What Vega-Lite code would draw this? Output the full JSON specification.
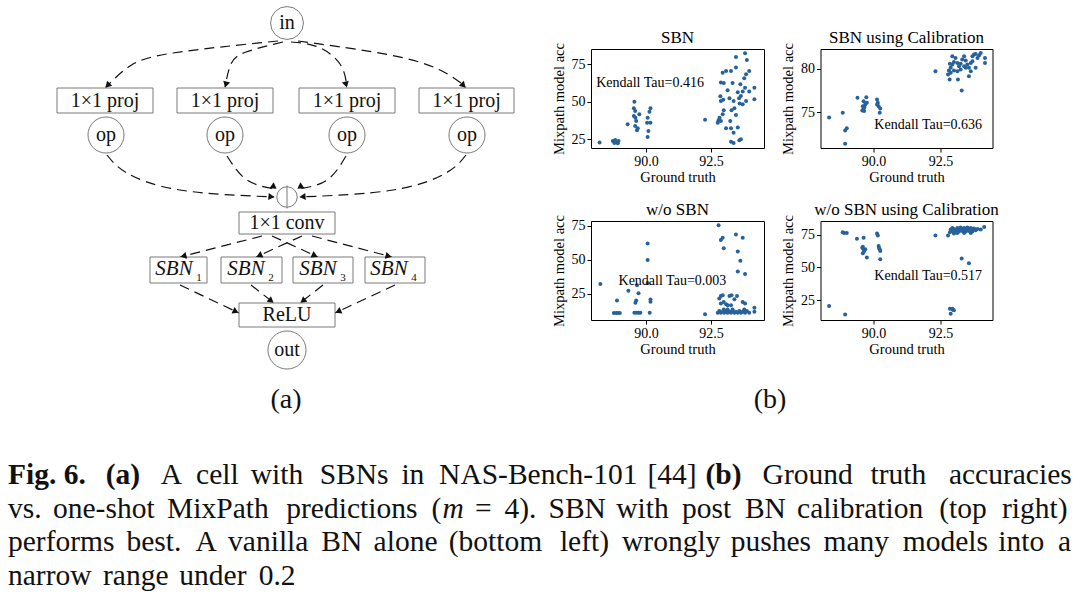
{
  "$schema": "https://vega.github.io/schema/vega-lite/v6.json",
  "padding": 0,
  "background": "white",
  "spacing": 0,
  "config": {
    "view": {"stroke": null},
    "font": "Liberation Serif",
    "axis": {"domain": false, "grid": false, "tickColor": "#000", "tickSize": 4, "tickWidth": 1, "labelFont": "Liberation Serif", "labelFontSize": 14, "labelColor": "#000", "labelPadding": 2, "titleFont": "Liberation Serif", "titleFontSize": 14.5, "titleFontWeight": "normal", "titleColor": "#000"},
    "axisX": {"titlePadding": 2},
    "axisY": {"titlePadding": 5},
    "title": {"font": "Liberation Serif", "fontSize": 17, "fontWeight": "normal", "color": "#000", "offset": -4, "anchor": "middle", "frame": "group"}
  },
  "vconcat": [
    {
      "spacing": 0,
      "hconcat": [
        {
          "width": 550,
          "height": 380,
          "layer": [
            {
              "data": {"values": [
                {"e": "i1", "o": 0, "x": 278, "y": 41}, {"e": "i1", "o": 1, "x": 173, "y": 53}, {"e": "i1", "o": 2, "x": 130, "y": 66}, {"e": "i1", "o": 3, "x": 106, "y": 87},
                {"e": "i2", "o": 0, "x": 283, "y": 42}, {"e": "i2", "o": 1, "x": 246, "y": 52}, {"e": "i2", "o": 2, "x": 231, "y": 64}, {"e": "i2", "o": 3, "x": 225, "y": 87},
                {"e": "i3", "o": 0, "x": 291, "y": 42}, {"e": "i3", "o": 1, "x": 318, "y": 47}, {"e": "i3", "o": 2, "x": 340, "y": 64}, {"e": "i3", "o": 3, "x": 347, "y": 87},
                {"e": "i4", "o": 0, "x": 298, "y": 41}, {"e": "i4", "o": 1, "x": 390, "y": 55}, {"e": "i4", "o": 2, "x": 440, "y": 70}, {"e": "i4", "o": 3, "x": 466, "y": 87},
                {"e": "o1", "o": 0, "x": 107, "y": 155}, {"e": "o1", "o": 1, "x": 127, "y": 173}, {"e": "o1", "o": 2, "x": 180, "y": 190}, {"e": "o1", "o": 3, "x": 274, "y": 197},
                {"e": "o2", "o": 0, "x": 227, "y": 156}, {"e": "o2", "o": 1, "x": 247, "y": 180}, {"e": "o2", "o": 2, "x": 276, "y": 189},
                {"e": "o3", "o": 0, "x": 346, "y": 156}, {"e": "o3", "o": 1, "x": 327, "y": 180}, {"e": "o3", "o": 2, "x": 298, "y": 189},
                {"e": "o4", "o": 0, "x": 466, "y": 155}, {"e": "o4", "o": 1, "x": 446, "y": 173}, {"e": "o4", "o": 2, "x": 393, "y": 190}, {"e": "o4", "o": 3, "x": 300, "y": 197},
                {"e": "c1", "o": 0, "x": 262, "y": 236}, {"e": "c1", "o": 1, "x": 180, "y": 257},
                {"e": "c2", "o": 0, "x": 302, "y": 236}, {"e": "c2", "o": 1, "x": 256, "y": 257},
                {"e": "c3", "o": 0, "x": 272, "y": 236}, {"e": "c3", "o": 1, "x": 318, "y": 257},
                {"e": "c4", "o": 0, "x": 312, "y": 236}, {"e": "c4", "o": 1, "x": 392, "y": 257},
                {"e": "s1", "o": 0, "x": 180, "y": 285}, {"e": "s1", "o": 1, "x": 239, "y": 313},
                {"e": "s2", "o": 0, "x": 251, "y": 285}, {"e": "s2", "o": 1, "x": 274, "y": 303},
                {"e": "s3", "o": 0, "x": 323, "y": 285}, {"e": "s3", "o": 1, "x": 300, "y": 303},
                {"e": "s4", "o": 0, "x": 395, "y": 285}, {"e": "s4", "o": 1, "x": 335, "y": 313}
              ]},
              "mark": {"type": "line", "interpolate": "natural", "strokeDash": [10, 6], "strokeWidth": 1.2, "color": "#111"},
              "encoding": {
                "x": {"field": "x", "type": "quantitative", "scale": {"domain": [0, 550], "nice": false, "zero": false}, "axis": null},
                "y": {"field": "y", "type": "quantitative", "scale": {"domain": [0, 380], "nice": false, "zero": false, "reverse": true}, "axis": null},
                "detail": {"field": "e"},
                "order": {"field": "o", "type": "quantitative"}
              }
            },
            {
              "data": {"values": [
                {"x1": 57, "x2": 153, "y1": 88, "y2": 113},
                {"x1": 177, "x2": 273, "y1": 88, "y2": 113},
                {"x1": 299, "x2": 395, "y1": 88, "y2": 113},
                {"x1": 419, "x2": 514, "y1": 88, "y2": 113},
                {"x1": 239, "x2": 335, "y1": 212, "y2": 234},
                {"x1": 150, "x2": 207, "y1": 257, "y2": 283},
                {"x1": 221, "x2": 282, "y1": 257, "y2": 283},
                {"x1": 293, "x2": 353, "y1": 257, "y2": 283},
                {"x1": 365, "x2": 425, "y1": 257, "y2": 283},
                {"x1": 239, "x2": 335, "y1": 303, "y2": 327}
              ]},
              "mark": {"type": "rect", "fill": "white", "stroke": "#7a7a7a", "strokeWidth": 1},
              "encoding": {
                "x": {"field": "x1", "type": "quantitative", "scale": {"domain": [0, 550], "nice": false, "zero": false}, "axis": null},
                "x2": {"field": "x2"},
                "y": {"field": "y1", "type": "quantitative", "scale": {"domain": [0, 380], "nice": false, "zero": false, "reverse": true}, "axis": null},
                "y2": {"field": "y2"}
              }
            },
            {
              "data": {"values": [{"x": 287, "y": 23}]},
              "mark": {"type": "point", "shape": "circle", "filled": true, "fill": "white", "stroke": "#7a7a7a", "strokeWidth": 1, "opacity": 1, "size": 1080},
              "encoding": {
                "x": {"field": "x", "type": "quantitative", "scale": {"domain": [0, 550], "nice": false, "zero": false}, "axis": null},
                "y": {"field": "y", "type": "quantitative", "scale": {"domain": [0, 380], "nice": false, "zero": false, "reverse": true}, "axis": null}
              }
            },
            {
              "data": {"values": [{"x": 106, "y": 135}, {"x": 225, "y": 135}, {"x": 347, "y": 135}, {"x": 467, "y": 135}]},
              "mark": {"type": "point", "shape": "circle", "filled": true, "fill": "white", "stroke": "#7a7a7a", "strokeWidth": 1, "opacity": 1, "size": 1300},
              "encoding": {
                "x": {"field": "x", "type": "quantitative", "scale": {"domain": [0, 550], "nice": false, "zero": false}, "axis": null},
                "y": {"field": "y", "type": "quantitative", "scale": {"domain": [0, 380], "nice": false, "zero": false, "reverse": true}, "axis": null}
              }
            },
            {
              "data": {"values": [{"x": 287, "y": 350}]},
              "mark": {"type": "point", "shape": "circle", "filled": true, "fill": "white", "stroke": "#7a7a7a", "strokeWidth": 1, "opacity": 1, "size": 1450},
              "encoding": {
                "x": {"field": "x", "type": "quantitative", "scale": {"domain": [0, 550], "nice": false, "zero": false}, "axis": null},
                "y": {"field": "y", "type": "quantitative", "scale": {"domain": [0, 380], "nice": false, "zero": false, "reverse": true}, "axis": null}
              }
            },
            {
              "data": {"values": [{"x": 287, "y": 197}]},
              "mark": {"type": "point", "shape": "circle", "filled": true, "fill": "white", "stroke": "#7a7a7a", "strokeWidth": 1, "opacity": 1, "size": 420},
              "encoding": {
                "x": {"field": "x", "type": "quantitative", "scale": {"domain": [0, 550], "nice": false, "zero": false}, "axis": null},
                "y": {"field": "y", "type": "quantitative", "scale": {"domain": [0, 380], "nice": false, "zero": false, "reverse": true}, "axis": null}
              }
            },
            {
              "data": {"values": [{"x": 287, "y": 185.5, "y2": 208.5}]},
              "mark": {"type": "rule", "color": "#7a7a7a", "strokeWidth": 1},
              "encoding": {
                "x": {"field": "x", "type": "quantitative", "scale": {"domain": [0, 550], "nice": false, "zero": false}, "axis": null},
                "y": {"field": "y", "type": "quantitative", "scale": {"domain": [0, 380], "nice": false, "zero": false, "reverse": true}, "axis": null},
                "y2": {"field": "y2"}
              }
            },
            {
              "data": {"values": [
                {"t": "in", "x": 287, "y": 23},
                {"t": "1×1 proj", "x": 105, "y": 100.5},
                {"t": "1×1 proj", "x": 225, "y": 100.5},
                {"t": "1×1 proj", "x": 347, "y": 100.5},
                {"t": "1×1 proj", "x": 466.5, "y": 100.5},
                {"t": "op", "x": 106, "y": 135},
                {"t": "op", "x": 225, "y": 135},
                {"t": "op", "x": 347, "y": 135},
                {"t": "op", "x": 467, "y": 135},
                {"t": "1×1 conv", "x": 287, "y": 223},
                {"t": "ReLU", "x": 287, "y": 315},
                {"t": "out", "x": 287, "y": 350}
              ]},
              "mark": {"type": "text", "fontSize": 20, "align": "center", "baseline": "middle", "color": "#111", "font": "Liberation Serif"},
              "encoding": {
                "x": {"field": "x", "type": "quantitative", "scale": {"domain": [0, 550], "nice": false, "zero": false}, "axis": null},
                "y": {"field": "y", "type": "quantitative", "scale": {"domain": [0, 380], "nice": false, "zero": false, "reverse": true}, "axis": null},
                "text": {"field": "t"}
              }
            },
            {
              "data": {"values": [
                {"t": "SBN", "x": 174, "y": 269},
                {"t": "SBN", "x": 246, "y": 269},
                {"t": "SBN", "x": 318, "y": 269},
                {"t": "SBN", "x": 389, "y": 269}
              ]},
              "mark": {"type": "text", "fontSize": 21, "fontStyle": "italic", "align": "center", "baseline": "middle", "color": "#111", "font": "Liberation Serif"},
              "encoding": {
                "x": {"field": "x", "type": "quantitative", "scale": {"domain": [0, 550], "nice": false, "zero": false}, "axis": null},
                "y": {"field": "y", "type": "quantitative", "scale": {"domain": [0, 380], "nice": false, "zero": false, "reverse": true}, "axis": null},
                "text": {"field": "t"}
              }
            },
            {
              "data": {"values": [
                {"t": "1", "x": 199, "y": 278},
                {"t": "2", "x": 271, "y": 278},
                {"t": "3", "x": 343, "y": 278},
                {"t": "4", "x": 414, "y": 278}
              ]},
              "mark": {"type": "text", "fontSize": 11, "align": "center", "baseline": "middle", "color": "#111", "font": "Liberation Serif"},
              "encoding": {
                "x": {"field": "x", "type": "quantitative", "scale": {"domain": [0, 550], "nice": false, "zero": false}, "axis": null},
                "y": {"field": "y", "type": "quantitative", "scale": {"domain": [0, 380], "nice": false, "zero": false, "reverse": true}, "axis": null},
                "text": {"field": "t"}
              }
            },
            {
              "data": {"values": [
                {"x": 107.5, "y": 85.5, "a": 135},
                {"x": 225.9, "y": 84.6, "a": 105},
                {"x": 346.1, "y": 84.6, "a": 75},
                {"x": 463.5, "y": 85.5, "a": 45},
                {"x": 271.5, "y": 196.7, "a": 5},
                {"x": 274.1, "y": 187, "a": 35},
                {"x": 299.9, "y": 187, "a": 145},
                {"x": 302.5, "y": 196.7, "a": 175},
                {"x": 183.4, "y": 256.1, "a": 166},
                {"x": 259.2, "y": 255.6, "a": 155},
                {"x": 314.8, "y": 255.6, "a": 25},
                {"x": 388.6, "y": 256.1, "a": 15},
                {"x": 235.8, "y": 311.5, "a": 25},
                {"x": 271.2, "y": 300.8, "a": 38},
                {"x": 302.8, "y": 300.8, "a": 142},
                {"x": 338.2, "y": 311.5, "a": 155}
              ]},
              "mark": {"type": "point", "shape": "triangle-right", "filled": true, "color": "#111", "opacity": 1, "size": 50},
              "encoding": {
                "x": {"field": "x", "type": "quantitative", "scale": {"domain": [0, 550], "nice": false, "zero": false}, "axis": null},
                "y": {"field": "y", "type": "quantitative", "scale": {"domain": [0, 380], "nice": false, "zero": false, "reverse": true}, "axis": null},
                "angle": {"field": "a", "type": "quantitative", "scale": null}
              }
            }
          ]
        },
        {
          "spacing": 16,
          "vconcat": [
            {
              "width": 10,
              "height": 12,
              "data": {"values": [{"k": 1}]},
              "mark": {"type": "point", "opacity": 0},
              "encoding": {}
            },
            {
              "spacing": 14.5,
              "hconcat": [
                {
                  "width": 173,
                  "height": 99,
                  "title": "SBN",
                  "view": {"stroke": "#000", "strokeWidth": 1},
                  "layer": [
                    {
                      "data": {"values": [
                        {"g": 88.21, "a": 22.8}, {"g": 88.72, "a": 23.9}, {"g": 88.78, "a": 22.6}, {"g": 88.85, "a": 23.4}, {"g": 88.91, "a": 22.3}, {"g": 88.94, "a": 23.9}, {"g": 88.81, "a": 24.6},
                        {"g": 89.29, "a": 35.0}, {"g": 89.55, "a": 50.1}, {"g": 89.53, "a": 45.7}, {"g": 89.58, "a": 43.9}, {"g": 89.53, "a": 40.6}, {"g": 89.59, "a": 39.4}, {"g": 89.62, "a": 37.2},
                        {"g": 89.58, "a": 33.9}, {"g": 89.68, "a": 32.3}, {"g": 89.65, "a": 31.0}, {"g": 89.74, "a": 41.7}, {"g": 90.06, "a": 39.4}, {"g": 90.17, "a": 45.7}, {"g": 90.13, "a": 43.4},
                        {"g": 90.04, "a": 36.1}, {"g": 90.17, "a": 36.1}, {"g": 90.09, "a": 30.6}, {"g": 90.06, "a": 26.6},
                        {"g": 92.27, "a": 38.1}, {"g": 92.76, "a": 36.1}, {"g": 92.79, "a": 37.7}, {"g": 92.83, "a": 39.4}, {"g": 92.88, "a": 37.2}, {"g": 92.95, "a": 41.7}, {"g": 92.99, "a": 44.3},
                        {"g": 92.88, "a": 50.6}, {"g": 92.97, "a": 51.4}, {"g": 92.86, "a": 53.7}, {"g": 92.88, "a": 62.8}, {"g": 92.99, "a": 62.6}, {"g": 92.95, "a": 69.4}, {"g": 93.08, "a": 70.6},
                        {"g": 93.27, "a": 70.6}, {"g": 93.46, "a": 72.8}, {"g": 93.46, "a": 79.9}, {"g": 93.81, "a": 82.3}, {"g": 93.88, "a": 77.9}, {"g": 93.85, "a": 68.3}, {"g": 93.14, "a": 57.7},
                        {"g": 93.33, "a": 62.6}, {"g": 93.63, "a": 61.7}, {"g": 93.81, "a": 59.4}, {"g": 94.17, "a": 59.4}, {"g": 93.97, "a": 56.8}, {"g": 93.72, "a": 56.8}, {"g": 93.53, "a": 56.3},
                        {"g": 93.21, "a": 52.3}, {"g": 93.37, "a": 50.6}, {"g": 93.58, "a": 52.3}, {"g": 93.65, "a": 53.9}, {"g": 93.72, "a": 48.3}, {"g": 93.85, "a": 50.6}, {"g": 94.17, "a": 51.7},
                        {"g": 93.29, "a": 44.3}, {"g": 93.40, "a": 45.7}, {"g": 93.60, "a": 48.8}, {"g": 93.24, "a": 37.2}, {"g": 93.08, "a": 32.3}, {"g": 93.27, "a": 32.3}, {"g": 93.53, "a": 32.8},
                        {"g": 93.37, "a": 29.4}, {"g": 93.27, "a": 23.4}, {"g": 93.37, "a": 22.6}, {"g": 93.59, "a": 24.3}, {"g": 93.65, "a": 25.0}, {"g": 93.46, "a": 41.2}, {"g": 93.78, "a": 65.7},
                        {"g": 93.97, "a": 70.6}
                      ]},
                      "mark": {"type": "point", "filled": true, "size": 16, "color": "#27629a", "opacity": 1},
                      "encoding": {
                        "x": {"field": "g", "type": "quantitative", "title": "Ground truth", "scale": {"domain": [87.88, 94.54], "nice": false, "zero": false}, "axis": {"values": [90, 92.5], "format": ".1f"}},
                        "y": {"field": "a", "type": "quantitative", "title": "Mixpath model acc", "scale": {"domain": [19.2, 85.2], "nice": false, "zero": false}, "axis": {"values": [25, 50, 75]}}
                      }
                    },
                    {
                      "data": {"values": [{"g": 88.08, "a": 62.8, "t": "Kendall Tau=0.416"}]},
                      "mark": {"type": "text", "align": "left", "baseline": "middle", "fontSize": 14, "color": "#000", "font": "Liberation Serif"},
                      "encoding": {
                        "x": {"field": "g", "type": "quantitative", "scale": {"domain": [87.88, 94.54], "nice": false, "zero": false}},
                        "y": {"field": "a", "type": "quantitative", "scale": {"domain": [19.2, 85.2], "nice": false, "zero": false}},
                        "text": {"field": "t"}
                      }
                    }
                  ]
                },
                {
                  "width": 172,
                  "height": 99,
                  "title": "SBN using Calibration",
                  "view": {"stroke": "#000", "strokeWidth": 1},
                  "layer": [
                    {
                      "data": {"values": [
                        {"g": 88.34, "a": 74.38}, {"g": 88.85, "a": 74.92}, {"g": 88.94, "a": 72.88}, {"g": 89.00, "a": 73.12}, {"g": 88.94, "a": 71.35}, {"g": 89.40, "a": 76.65},
                        {"g": 89.63, "a": 76.27}, {"g": 89.60, "a": 75.69}, {"g": 89.63, "a": 75.42}, {"g": 89.65, "a": 75.12}, {"g": 89.69, "a": 75.88}, {"g": 89.73, "a": 76.73},
                        {"g": 89.75, "a": 76.08}, {"g": 89.58, "a": 75.19}, {"g": 89.66, "a": 75.58}, {"g": 90.13, "a": 76.46}, {"g": 90.16, "a": 76.08}, {"g": 90.19, "a": 75.69},
                        {"g": 90.25, "a": 75.42}, {"g": 90.23, "a": 74.92}, {"g": 90.13, "a": 75.88},
                        {"g": 92.31, "a": 79.73}, {"g": 92.84, "a": 78.77}, {"g": 93.15, "a": 78.77}, {"g": 93.29, "a": 77.50}, {"g": 92.78, "a": 79.35}, {"g": 92.81, "a": 79.81},
                        {"g": 92.88, "a": 80.12}, {"g": 92.94, "a": 80.50}, {"g": 93.00, "a": 80.81}, {"g": 93.06, "a": 81.27}, {"g": 93.13, "a": 80.69}, {"g": 93.19, "a": 80.31},
                        {"g": 93.25, "a": 79.92}, {"g": 93.31, "a": 81.08}, {"g": 93.38, "a": 81.46}, {"g": 93.44, "a": 80.96}, {"g": 93.50, "a": 80.50}, {"g": 93.56, "a": 80.12},
                        {"g": 93.63, "a": 79.73}, {"g": 93.56, "a": 79.15}, {"g": 93.69, "a": 81.46}, {"g": 93.75, "a": 81.65}, {"g": 93.81, "a": 81.73}, {"g": 93.88, "a": 81.27},
                        {"g": 93.94, "a": 81.58}, {"g": 94.00, "a": 81.85}, {"g": 94.16, "a": 81.27}, {"g": 94.16, "a": 80.69}, {"g": 93.81, "a": 80.12}, {"g": 93.63, "a": 80.69},
                        {"g": 93.44, "a": 80.12}, {"g": 93.13, "a": 79.73}, {"g": 93.00, "a": 79.81}, {"g": 92.88, "a": 79.54}, {"g": 92.94, "a": 81.46}, {"g": 92.85, "a": 80.58},
                        {"g": 93.25, "a": 80.58}, {"g": 93.38, "a": 80.31}, {"g": 93.69, "a": 80.88}
                      ]},
                      "mark": {"type": "point", "filled": true, "size": 16, "color": "#27629a", "opacity": 1},
                      "encoding": {
                        "x": {"field": "g", "type": "quantitative", "title": "Ground truth", "scale": {"domain": [88.02, 94.44], "nice": false, "zero": false}, "axis": {"values": [90, 92.5], "format": ".1f"}},
                        "y": {"field": "a", "type": "quantitative", "title": "Mixpath model acc", "scale": {"domain": [70.85, 82.3], "nice": false, "zero": false}, "axis": {"values": [75, 80]}}
                      }
                    },
                    {
                      "data": {"values": [{"g": 90.03, "a": 73.46, "t": "Kendall Tau=0.636"}]},
                      "mark": {"type": "text", "align": "left", "baseline": "middle", "fontSize": 14, "color": "#000", "font": "Liberation Serif"},
                      "encoding": {
                        "x": {"field": "g", "type": "quantitative", "scale": {"domain": [88.02, 94.44], "nice": false, "zero": false}},
                        "y": {"field": "a", "type": "quantitative", "scale": {"domain": [70.85, 82.3], "nice": false, "zero": false}},
                        "text": {"field": "t"}
                      }
                    }
                  ]
                }
              ]
            },
            {
              "spacing": 14.5,
              "hconcat": [
                {
                  "width": 173,
                  "height": 99,
                  "title": "w/o SBN",
                  "view": {"stroke": "#000", "strokeWidth": 1},
                  "layer": [
                    {
                      "data": {"values": [
                        {"g": 88.24, "a": 32.3}, {"g": 88.88, "a": 20.1}, {"g": 88.76, "a": 10.9}, {"g": 88.85, "a": 10.9}, {"g": 88.91, "a": 10.9}, {"g": 88.99, "a": 10.9},
                        {"g": 89.32, "a": 27.4}, {"g": 89.65, "a": 31.3}, {"g": 89.71, "a": 25.5}, {"g": 89.62, "a": 20.1}, {"g": 89.59, "a": 18.4}, {"g": 89.55, "a": 11.2},
                        {"g": 89.63, "a": 11.2}, {"g": 89.71, "a": 11.2}, {"g": 89.78, "a": 11.2}, {"g": 90.06, "a": 62.1}, {"g": 90.06, "a": 50.0}, {"g": 90.06, "a": 33.0},
                        {"g": 90.17, "a": 20.9}, {"g": 90.17, "a": 19.2}, {"g": 90.14, "a": 11.2},
                        {"g": 92.27, "a": 10.0}, {"g": 92.79, "a": 75.5}, {"g": 92.88, "a": 64.6}, {"g": 92.95, "a": 66.3}, {"g": 92.99, "a": 58.5}, {"g": 93.46, "a": 68.7},
                        {"g": 93.72, "a": 66.3}, {"g": 93.53, "a": 56.1}, {"g": 93.63, "a": 49.3}, {"g": 93.53, "a": 41.5}, {"g": 93.81, "a": 39.6},
                        {"g": 92.88, "a": 23.5}, {"g": 92.95, "a": 24.0}, {"g": 92.99, "a": 19.1}, {"g": 93.08, "a": 17.4}, {"g": 93.21, "a": 23.5}, {"g": 93.29, "a": 24.0},
                        {"g": 93.40, "a": 21.1}, {"g": 93.27, "a": 16.6}, {"g": 93.14, "a": 16.6}, {"g": 93.72, "a": 19.1}, {"g": 93.81, "a": 17.9}, {"g": 92.88, "a": 17.9},
                        {"g": 92.82, "a": 21.6}, {"g": 93.50, "a": 23.5},
                        {"g": 92.76, "a": 11.2}, {"g": 92.82, "a": 12.4}, {"g": 92.88, "a": 11.2}, {"g": 92.95, "a": 11.8}, {"g": 93.01, "a": 11.2}, {"g": 93.08, "a": 12.4},
                        {"g": 93.14, "a": 11.2}, {"g": 93.21, "a": 11.8}, {"g": 93.27, "a": 11.2}, {"g": 93.33, "a": 12.4}, {"g": 93.40, "a": 11.2}, {"g": 93.46, "a": 11.8},
                        {"g": 93.53, "a": 11.2}, {"g": 93.59, "a": 12.4}, {"g": 93.65, "a": 11.2}, {"g": 93.72, "a": 11.8}, {"g": 93.78, "a": 13.6}, {"g": 93.81, "a": 11.2},
                        {"g": 93.88, "a": 12.4}, {"g": 94.17, "a": 14.8}, {"g": 94.17, "a": 11.8}, {"g": 93.97, "a": 11.2}, {"g": 93.33, "a": 13.6}, {"g": 93.14, "a": 13.6},
                        {"g": 92.99, "a": 13.6}
                      ]},
                      "mark": {"type": "point", "filled": true, "size": 16, "color": "#27629a", "opacity": 1},
                      "encoding": {
                        "x": {"field": "g", "type": "quantitative", "title": "Ground truth", "scale": {"domain": [87.88, 94.54], "nice": false, "zero": false}, "axis": {"values": [90, 92.5], "format": ".1f"}},
                        "y": {"field": "a", "type": "quantitative", "title": "Mixpath model acc", "scale": {"domain": [5.8, 78.6], "nice": false, "zero": false}, "axis": {"values": [25, 50, 75]}}
                      }
                    },
                    {
                      "data": {"values": [{"g": 88.94, "a": 34.7, "t": "Kendall Tau=0.003"}]},
                      "mark": {"type": "text", "align": "left", "baseline": "middle", "fontSize": 14, "color": "#000", "font": "Liberation Serif"},
                      "encoding": {
                        "x": {"field": "g", "type": "quantitative", "scale": {"domain": [87.88, 94.54], "nice": false, "zero": false}},
                        "y": {"field": "a", "type": "quantitative", "scale": {"domain": [5.8, 78.6], "nice": false, "zero": false}},
                        "text": {"field": "t"}
                      }
                    }
                  ]
                },
                {
                  "width": 172,
                  "height": 99,
                  "title": "w/o SBN using Calibration",
                  "view": {"stroke": "#000", "strokeWidth": 1},
                  "layer": [
                    {
                      "data": {"values": [
                        {"g": 88.34, "a": 20.5}, {"g": 88.94, "a": 14.1}, {"g": 88.85, "a": 77.0}, {"g": 88.90, "a": 76.5}, {"g": 89.00, "a": 76.5}, {"g": 89.38, "a": 72.0},
                        {"g": 89.63, "a": 72.7}, {"g": 89.58, "a": 65.2}, {"g": 89.60, "a": 65.9}, {"g": 89.63, "a": 63.9}, {"g": 89.65, "a": 62.6}, {"g": 89.60, "a": 60.9},
                        {"g": 89.69, "a": 63.9}, {"g": 89.75, "a": 57.6}, {"g": 90.13, "a": 76.0}, {"g": 90.16, "a": 74.5}, {"g": 90.19, "a": 66.4}, {"g": 90.23, "a": 63.9},
                        {"g": 90.25, "a": 62.6}, {"g": 90.20, "a": 65.2}, {"g": 90.25, "a": 56.3},
                        {"g": 92.31, "a": 74.5}, {"g": 92.78, "a": 74.5}, {"g": 92.85, "a": 77.0},
                        {"g": 92.88, "a": 79.0}, {"g": 92.94, "a": 80.3}, {"g": 93.00, "a": 79.5}, {"g": 93.06, "a": 78.5}, {"g": 93.13, "a": 80.3}, {"g": 93.19, "a": 79.0},
                        {"g": 93.25, "a": 80.6}, {"g": 93.31, "a": 79.5}, {"g": 93.38, "a": 80.3}, {"g": 93.44, "a": 79.0}, {"g": 93.50, "a": 80.6}, {"g": 93.56, "a": 79.5},
                        {"g": 93.63, "a": 80.3}, {"g": 93.69, "a": 79.0}, {"g": 93.75, "a": 79.8}, {"g": 93.81, "a": 78.5}, {"g": 93.88, "a": 79.5}, {"g": 92.94, "a": 77.8},
                        {"g": 93.06, "a": 77.0}, {"g": 93.19, "a": 77.5}, {"g": 93.31, "a": 78.0}, {"g": 93.44, "a": 77.5}, {"g": 93.56, "a": 78.0}, {"g": 93.69, "a": 77.5},
                        {"g": 93.13, "a": 76.5}, {"g": 93.38, "a": 76.5}, {"g": 93.63, "a": 76.5}, {"g": 93.00, "a": 76.0}, {"g": 94.00, "a": 79.0}, {"g": 94.13, "a": 81.1},
                        {"g": 93.29, "a": 56.8}, {"g": 93.56, "a": 53.3},
                        {"g": 92.85, "a": 18.4}, {"g": 92.94, "a": 18.4}, {"g": 93.00, "a": 17.2}, {"g": 92.88, "a": 14.6}, {"g": 92.96, "a": 17.7}
                      ]},
                      "mark": {"type": "point", "filled": true, "size": 16, "color": "#27629a", "opacity": 1},
                      "encoding": {
                        "x": {"field": "g", "type": "quantitative", "title": "Ground truth", "scale": {"domain": [88.02, 94.44], "nice": false, "zero": false}, "axis": {"values": [90, 92.5], "format": ".1f"}},
                        "y": {"field": "a", "type": "quantitative", "title": "Mixpath model acc", "scale": {"domain": [9.8, 85.6], "nice": false, "zero": false}, "axis": {"values": [25, 50, 75]}}
                      }
                    },
                    {
                      "data": {"values": [{"g": 90.03, "a": 43.2, "t": "Kendall Tau=0.517"}]},
                      "mark": {"type": "text", "align": "left", "baseline": "middle", "fontSize": 14, "color": "#000", "font": "Liberation Serif"},
                      "encoding": {
                        "x": {"field": "g", "type": "quantitative", "scale": {"domain": [88.02, 94.44], "nice": false, "zero": false}},
                        "y": {"field": "a", "type": "quantitative", "scale": {"domain": [9.8, 85.6], "nice": false, "zero": false}},
                        "text": {"field": "t"}
                      }
                    }
                  ]
                }
              ]
            }
          ]
        }
      ]
    },
    {
      "width": 1080,
      "height": 214,
      "layer": [
        {
          "data": {"values": [
            {"w": "A", "x": 160.8, "y": 484}, {"w": "cell", "x": 196.1, "y": 484}, {"w": "with", "x": 250.8, "y": 484}, {"w": "SBNs", "x": 319.7, "y": 484},
            {"w": "in", "x": 401.4, "y": 484}, {"w": "NAS-Bench-101", "x": 439.1, "y": 484}, {"w": "[44]", "x": 647.4, "y": 484},
            {"w": "Ground", "x": 762.6, "y": 484}, {"w": "truth", "x": 870.6, "y": 484}, {"w": "accuracies", "x": 948.9, "y": 484},
            {"w": "vs.", "x": 8, "y": 517.5}, {"w": "one-shot", "x": 53, "y": 517.5}, {"w": "MixPath", "x": 167.1, "y": 517.5}, {"w": "predictions", "x": 286.3, "y": 517.5},
            {"w": "(", "x": 431.6, "y": 517.5}, {"w": "=", "x": 474.9, "y": 517.5}, {"w": "4).", "x": 504.5, "y": 517.5}, {"w": "SBN", "x": 548.5, "y": 517.5},
            {"w": "with", "x": 616.2, "y": 517.5}, {"w": "post", "x": 682.1, "y": 517.5}, {"w": "BN", "x": 744.9, "y": 517.5}, {"w": "calibration", "x": 797.1, "y": 517.5},
            {"w": "(top", "x": 939.2, "y": 517.5}, {"w": "right)", "x": 1002, "y": 517.5},
            {"w": "performs", "x": 8, "y": 551}, {"w": "best.", "x": 126.4, "y": 551}, {"w": "A", "x": 195.6, "y": 551}, {"w": "vanilla", "x": 228.1, "y": 551},
            {"w": "BN", "x": 321.3, "y": 551}, {"w": "alone", "x": 373.6, "y": 551}, {"w": "(bottom", "x": 448.8, "y": 551}, {"w": "left)", "x": 559.9, "y": 551},
            {"w": "wrongly", "x": 622, "y": 551}, {"w": "pushes", "x": 730.8, "y": 551}, {"w": "many", "x": 823.5, "y": 551}, {"w": "models", "x": 902.7, "y": 551},
            {"w": "into", "x": 998.3, "y": 551}, {"w": "a", "x": 1058, "y": 551},
            {"w": "narrow", "x": 8, "y": 585}, {"w": "range", "x": 103, "y": 585}, {"w": "under", "x": 179.3, "y": 585}, {"w": "0.2", "x": 258.7, "y": 585}
          ]},
          "mark": {"type": "text", "align": "left", "baseline": "alphabetic", "fontSize": 29.5, "color": "#111", "font": "Liberation Serif"},
          "encoding": {
            "x": {"field": "x", "type": "quantitative", "scale": {"domain": [0, 1080], "nice": false, "zero": false}, "axis": null},
            "y": {"field": "y", "type": "quantitative", "scale": {"domain": [380, 594], "nice": false, "zero": false, "reverse": true}, "axis": null},
            "text": {"field": "w"}
          }
        },
        {
          "data": {"values": [
            {"w": "Fig. 6.", "x": 8, "y": 484}, {"w": "(a)", "x": 105.7, "y": 484}, {"w": "(b)", "x": 705.4, "y": 484}
          ]},
          "mark": {"type": "text", "align": "left", "baseline": "alphabetic", "fontSize": 29.5, "fontWeight": "bold", "color": "#111", "font": "Liberation Serif"},
          "encoding": {
            "x": {"field": "x", "type": "quantitative", "scale": {"domain": [0, 1080], "nice": false, "zero": false}, "axis": null},
            "y": {"field": "y", "type": "quantitative", "scale": {"domain": [380, 594], "nice": false, "zero": false, "reverse": true}, "axis": null},
            "text": {"field": "w"}
          }
        },
        {
          "data": {"values": [{"w": "m", "x": 442.5, "y": 517.5}]},
          "mark": {"type": "text", "align": "left", "baseline": "alphabetic", "fontSize": 29.5, "fontStyle": "italic", "color": "#111", "font": "Liberation Serif"},
          "encoding": {
            "x": {"field": "x", "type": "quantitative", "scale": {"domain": [0, 1080], "nice": false, "zero": false}, "axis": null},
            "y": {"field": "y", "type": "quantitative", "scale": {"domain": [380, 594], "nice": false, "zero": false, "reverse": true}, "axis": null},
            "text": {"field": "w"}
          }
        },
        {
          "data": {"values": [{"w": "(a)", "x": 286, "y": 408}, {"w": "(b)", "x": 770, "y": 408}]},
          "mark": {"type": "text", "align": "center", "baseline": "alphabetic", "fontSize": 28, "color": "#111", "font": "Liberation Serif"},
          "encoding": {
            "x": {"field": "x", "type": "quantitative", "scale": {"domain": [0, 1080], "nice": false, "zero": false}, "axis": null},
            "y": {"field": "y", "type": "quantitative", "scale": {"domain": [380, 594], "nice": false, "zero": false, "reverse": true}, "axis": null},
            "text": {"field": "w"}
          }
        }
      ]
    }
  ]
}
